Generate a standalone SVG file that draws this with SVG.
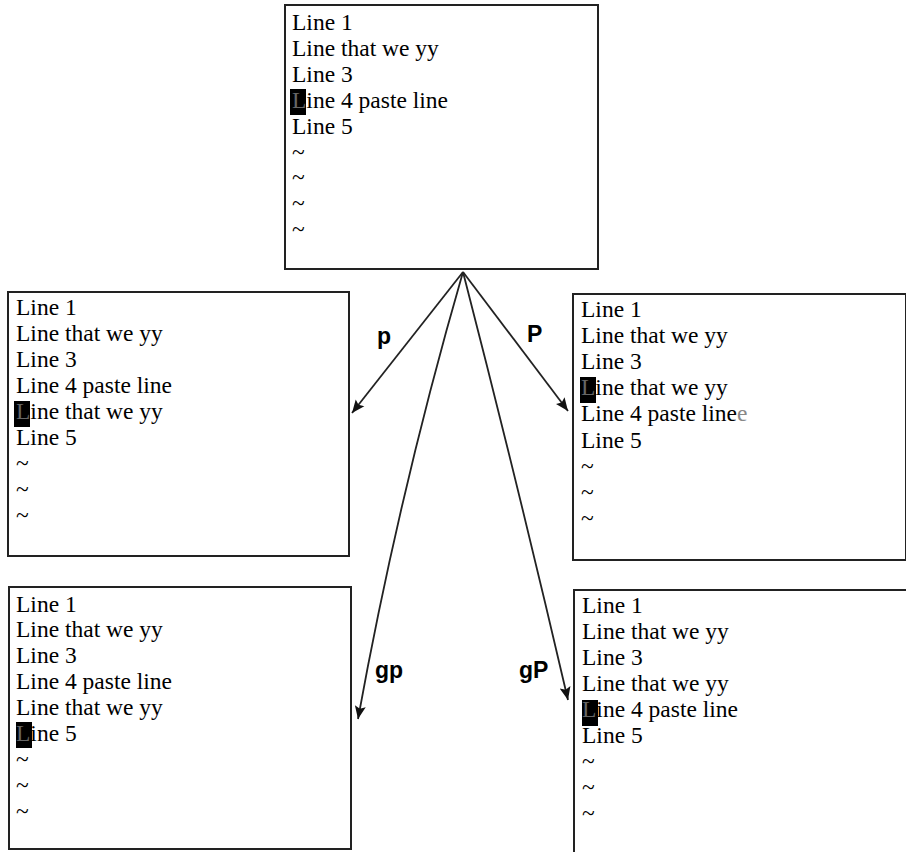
<svg xmlns="http://www.w3.org/2000/svg" width="906" height="852" viewBox="0 0 906 852">
<style>
.box{fill:#fff;stroke:#222;stroke-width:2}
.t{font-family:'Liberation Serif','Times New Roman',serif;font-size:23.5px;fill:#000}
.cur{fill:#000}
.cl{fill:#666}
.ghost{fill:#888}
.edge{fill:none;stroke:#222;stroke-width:1.8}
.lbl{font-family:'Liberation Sans',Arial,sans-serif;font-size:23px;font-weight:bold;fill:#000}
</style>
<defs>
<marker id="ah" markerUnits="userSpaceOnUse" markerWidth="14" markerHeight="12" refX="13" refY="6" orient="auto">
<path d="M0,0.5 L13,6 L0,11.5 L2.5,6 Z" fill="#111"/>
</marker>
</defs>
<rect width="906" height="852" fill="#fff"/>

<g id="node-top">
<rect class="box" x="285" y="5" width="313" height="264"/>
<rect class="cur" x="290" y="89" width="16" height="26"/>
<text class="t" x="292" y="30">Line 1</text>
<text class="t" x="292" y="55.9">Line that we yy</text>
<text class="t" x="292" y="81.8">Line 3</text>
<text class="t" x="292" y="107.7"><tspan class="cl">L</tspan>ine 4 paste line</text>
<text class="t" x="292" y="133.6">Line 5</text>
<text class="t" x="292" y="159.5">~</text>
<text class="t" x="292" y="185.4">~</text>
<text class="t" x="292" y="211.3">~</text>
<text class="t" x="292" y="237.2">~</text>
</g>

<g id="node-p">
<rect class="box" x="8" y="292" width="341" height="264"/>
<rect class="cur" x="14" y="401" width="16" height="26"/>
<text class="t" x="16" y="315">Line 1</text>
<text class="t" x="16" y="341">Line that we yy</text>
<text class="t" x="16" y="367">Line 3</text>
<text class="t" x="16" y="393">Line 4 paste line</text>
<text class="t" x="16" y="419"><tspan class="cl">L</tspan>ine that we yy</text>
<text class="t" x="16" y="445">Line 5</text>
<text class="t" x="16" y="471">~</text>
<text class="t" x="16" y="497">~</text>
<text class="t" x="16" y="523">~</text>
</g>

<g id="node-P">
<rect class="box" x="573" y="294" width="333" height="266"/>
<rect class="cur" x="580" y="377" width="16" height="26"/>
<text class="t" x="581" y="316.5">Line 1</text>
<text class="t" x="581" y="342.7">Line that we yy</text>
<text class="t" x="581" y="368.9">Line 3</text>
<text class="t" x="581" y="395.1"><tspan class="cl">L</tspan>ine that we yy</text>
<text class="t" x="581" y="421.3">Line 4 paste line<tspan class="ghost">e</tspan></text>
<text class="t" x="581" y="447.5">Line 5</text>
<text class="t" x="581" y="473.7">~</text>
<text class="t" x="581" y="499.9">~</text>
<text class="t" x="581" y="526.1">~</text>
</g>

<g id="node-gp">
<rect class="box" x="9" y="587" width="342" height="262"/>
<rect class="cur" x="16" y="722" width="16" height="26"/>
<text class="t" x="16" y="611.5">Line 1</text>
<text class="t" x="16" y="637.4">Line that we yy</text>
<text class="t" x="16" y="663.3">Line 3</text>
<text class="t" x="16" y="689.2">Line 4 paste line</text>
<text class="t" x="16" y="715.1">Line that we yy</text>
<text class="t" x="16" y="741"><tspan class="cl">L</tspan>ine 5</text>
<text class="t" x="16" y="766.9">~</text>
<text class="t" x="16" y="792.8">~</text>
<text class="t" x="16" y="818.7">~</text>
</g>

<g id="node-gP">
<rect class="box" x="574" y="590" width="333" height="266"/>
<rect class="cur" x="582" y="700" width="16" height="26"/>
<text class="t" x="582" y="613">Line 1</text>
<text class="t" x="582" y="639">Line that we yy</text>
<text class="t" x="582" y="665">Line 3</text>
<text class="t" x="582" y="691">Line that we yy</text>
<text class="t" x="582" y="717"><tspan class="cl">L</tspan>ine 4 paste line</text>
<text class="t" x="582" y="743">Line 5</text>
<text class="t" x="582" y="769">~</text>
<text class="t" x="582" y="795">~</text>
<text class="t" x="582" y="821">~</text>
</g>

<g id="connectors">
<path class="edge" d="M463,272 L352,413" marker-end="url(#ah)"/>
<path class="edge" d="M463,272 L568,411" marker-end="url(#ah)"/>
<path class="edge" d="M463,272 Q399,493 358,719" marker-end="url(#ah)"/>
<path class="edge" d="M463,272 Q518,485 568,700" marker-end="url(#ah)"/>
<text class="lbl" x="377" y="344">p</text>
<text class="lbl" x="527" y="342">P</text>
<text class="lbl" x="375" y="678">gp</text>
<text class="lbl" x="519" y="678">gP</text>
</g>
</svg>
